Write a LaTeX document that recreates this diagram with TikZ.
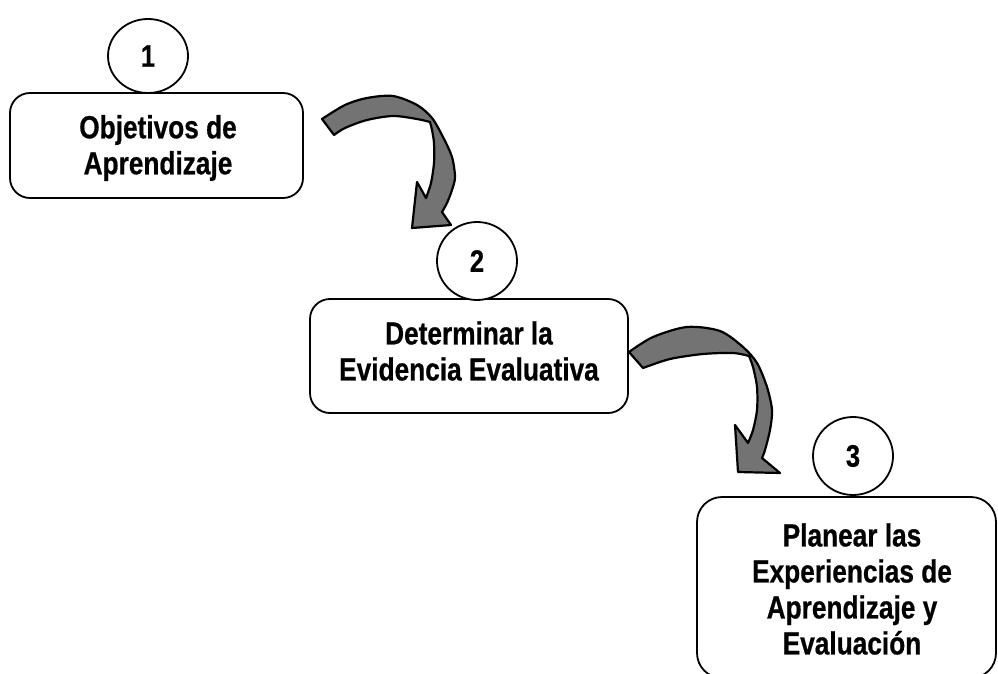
\documentclass[tikz,border=0pt]{standalone}
\usepackage{fontspec}
\setmainfont{Liberation Sans}[FakeStretch=0.82, BoldFeatures={FakeBold=0.6}]
\usetikzlibrary{shapes.geometric}
\definecolor{arrgray}{RGB}{115,115,115}
\begin{document}
\begin{tikzpicture}[x=1pt,y=-1pt,
  box/.style={draw, line width=1.8pt, rounded corners=20pt, fill=white, inner sep=0pt},
  num/.style={ellipse, draw, line width=1.8pt, fill=white, inner sep=0pt,
              font=\fontsize{31}{36}\selectfont\bfseries},
  lbl/.style={align=center, inner sep=0pt, font=\fontsize{32}{36}\selectfont\bfseries},
  arr/.style={draw=black, fill=arrgray, line width=2.2pt, line join=round}]
\path[use as bounding box, clip] (0,0) rectangle (998,674);
\fill[white] (0,0) rectangle (998,674);

% boxes
\node[box, minimum width=293pt, minimum height=105pt] (b1) at (156.5,145.5) {};
\node[box, minimum width=318pt, minimum height=114pt] (b2) at (469,356) {};
\node[box, rounded corners=25pt, minimum width=299pt, minimum height=181pt] (b3) at (846.5,587.5) {};

% labels
\node[lbl] (t1) at (158,148) {Objetivos de\\Aprendizaje};
\node[lbl] (t2) at (469,351) {Determinar la\\Evidencia Evaluativa};
\node[lbl] (t3) at (852,589) {Planear las\\Experiencias de\\Aprendizaje y\\Evaluación};

% number circles
\node[num, minimum width=80pt, minimum height=74pt] (c1) at (148,56) {1};
\node[num, minimum width=80pt, minimum height=78pt] (c2) at (477,261) {2};
\node[num, minimum width=80pt, minimum height=78pt] (c3) at (853,456) {3};

% curved arrows
\draw[arr] plot[smooth] coordinates {(322,119) (345,105) (367,98) (393,96) (417,105) (432,118) (443,137) (452,157) (455,177) (452,190) (447,203) (442,212)}
  -- (451,225) -- (412,228) -- (417,182)
  -- plot[smooth] coordinates {(426,198) (431,183) (434,163) (434,143) (432,130) (430,122)}
  -- plot[smooth] coordinates {(430,122) (417,119) (393,116) (367,120) (345,128) (334,135)}
  -- cycle;

\draw[arr] plot[smooth] coordinates {(629,352) (653,337) (687,327) (720,331) (743,347) (757,363) (767,387) (772,410) (770,430) (765,450) (762,458)}
  -- (780,473) -- (738,472) -- (735,425)
  -- plot[smooth] coordinates {(748,443) (753,430) (757,410) (757,387) (753,367) (749,356)}
  -- plot[smooth] coordinates {(749,356) (733,353) (703,354) (670,359) (643,368)}
  -- cycle;
\end{tikzpicture}
\end{document}
